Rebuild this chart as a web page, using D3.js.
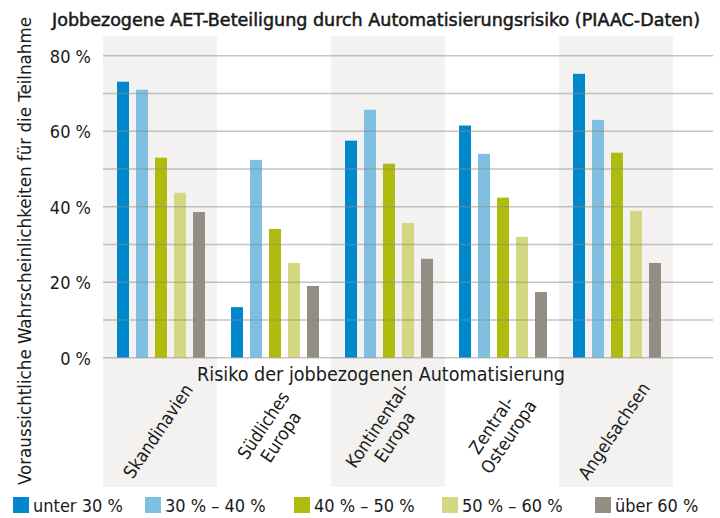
<!DOCTYPE html>
<html>
<head>
<meta charset="utf-8">
<script src="https://cdn.jsdelivr.net/npm/d3@7"></script>
<style>
  body { margin: 0; background: #fff; }
  svg text { font-family: "DejaVu Sans Condensed", "DejaVu Sans", sans-serif; font-stretch: condensed; fill: #1a1a1a; }
</style>
</head>
<body>
<div id="cont"></div>
<script>
// data
var categories = ["Skandinavien", "Südliches Europa", "Kontinental-Europa", "Zentral-Osteuropa", "Angelsachsen"];
var categoryLines = [["Skandinavien"], ["Südliches", "Europa"], ["Kontinental-", "Europa"], ["Zentral-", "Osteuropa"], ["Angelsachsen"]];
var seriesNames = ["unter 30 %", "30 % – 40 %", "40 % – 50 %", "50 % – 60 %", "über 60 %"];
var under30 = [73.1, 13.4, 57.5, 61.5, 75.2];
var from30to40 = [71.0, 52.4, 65.7, 54.0, 63.0];
var from40to50 = [53.0, 34.1, 51.4, 42.4, 54.3];
var from50to60 = [43.7, 25.1, 35.7, 32.0, 38.9];
var over60 = [38.6, 19.0, 26.2, 17.4, 25.1];
var yTicks = [0, 20, 40, 60, 80];
var gridTicks = [0, 10, 20, 30, 40, 50, 60, 70, 80];

var seriesValues = [under30, from30to40, from40to50, from50to60, over60];
var colors = ["#0088cc", "#7fbfe1", "#afbc0f", "#d4d883", "#938e83"];

var W = 720, H = 518;

var svg = d3.select("#cont").append("svg")
    .attr("width", W)
    .attr("height", H);

// scales
var x0 = d3.scaleBand().domain(categories).range([103, 673]);
var x1 = d3.scaleBand().domain(seriesNames).range([14, 102]).paddingInner(0.368);
var y = d3.scaleLinear().domain([0, 80]).range([357.7, 55.7]);
var color = d3.scaleOrdinal().domain(seriesNames).range(colors);

// shaded bands behind every other group
svg.append("g").selectAll("rect")
    .data(categories.filter(function(d, i) { return i % 2 === 0; }))
  .enter().append("rect")
    .attr("x", function(d) { return x0(d); })
    .attr("width", x0.bandwidth())
    .attr("y", 36)
    .attr("height", 487 - 36)
    .style("fill", "#f3f2f0");

// bars
var rows = categories.map(function(c, i) {
  return seriesNames.map(function(s, j) { return {cat: c, key: s, value: seriesValues[j][i]}; });
});

svg.append("g").selectAll("g")
    .data(rows)
  .enter().append("g")
    .attr("transform", function(d, i) { return "translate(" + x0(categories[i]) + ",0)"; })
  .selectAll("rect")
    .data(function(d) { return d; })
  .enter().append("rect")
    .attr("x", function(d) { return x1(d.key); })
    .attr("width", x1.bandwidth())
    .attr("y", function(d) { return y(d.value); })
    .attr("height", function(d) { return y(0) - y(d.value); })
    .style("fill", function(d) { return color(d.key); });

// gridlines (drawn over the bars, semi transparent)
svg.append("g").selectAll("line")
    .data(gridTicks)
  .enter().append("line")
    .attr("x1", 103)
    .attr("x2", 713)
    .attr("y1", function(d) { return y(d); })
    .attr("y2", function(d) { return y(d); })
    .style("stroke", "#8f8c86")
    .style("stroke-opacity", 0.5)
    .style("stroke-width", 1.6);

// y tick labels
svg.append("g").selectAll("text")
    .data(yTicks)
  .enter().append("text")
    .attr("x", 91)
    .attr("y", function(d) { return y(d) + 7; })
    .attr("text-anchor", "end")
    .style("font-size", "18px")
    .text(function(d) { return d + " %"; });

// title
svg.append("text")
    .attr("x", 52)
    .attr("y", 26)
    .style("font-size", "18px")
    .style("stroke", "#1a1a1a")
    .style("stroke-width", 0.5)
    .attr("textLength", 648)
    .attr("lengthAdjust", "spacingAndGlyphs")
    .text("Jobbezogene AET-Beteiligung durch Automatisierungsrisiko (PIAAC-Daten)");

// y axis title
svg.append("text")
    .attr("transform", "translate(31,251) rotate(-90)")
    .attr("text-anchor", "middle")
    .style("font-size", "18px")
    .attr("textLength", 468)
    .attr("lengthAdjust", "spacingAndGlyphs")
    .text("Voraussichtliche Wahrscheinlichkeiten für die Teilnahme");

// x axis title
svg.append("text")
    .attr("x", 381)
    .attr("y", 381)
    .attr("text-anchor", "middle")
    .style("font-size", "19px")
    .attr("textLength", 368)
    .attr("lengthAdjust", "spacingAndGlyphs")
    .text("Risiko der jobbezogenen Automatisierung");

// category labels, rotated
var catLabel = svg.append("g").selectAll("text")
    .data(categories)
  .enter().append("text")
    .attr("transform", function(d) {
      return "translate(" + (x0(d) + x0.bandwidth() / 2 - 2) + ",431) rotate(-56)";
    })
    .attr("text-anchor", "middle")
    .style("font-size", "18px");

catLabel.selectAll("tspan")
    .data(function(d, i) {
      var lines = categoryLines[i];
      return lines.map(function(t, k) { return {t: t, k: k, n: lines.length}; });
    })
  .enter().append("tspan")
    .attr("x", 0)
    .attr("y", function(d) { return ((d.k - (d.n - 1) / 2) * 1.15 + 0.35) + "em"; })
    .text(function(d) { return d.t; });

// legend
var legendX = [13, 145, 294, 442, 595];
var legend = svg.append("g").selectAll("g")
    .data(seriesNames)
  .enter().append("g")
    .attr("transform", function(d, i) { return "translate(" + legendX[i] + ",497)"; });

legend.append("rect")
    .attr("width", 16)
    .attr("height", 16)
    .style("fill", function(d) { return color(d); });

legend.append("text")
    .attr("x", 20)
    .attr("y", 15)
    .style("font-size", "18px")
    .text(function(d) { return d; });
</script>
</body>
</html>
